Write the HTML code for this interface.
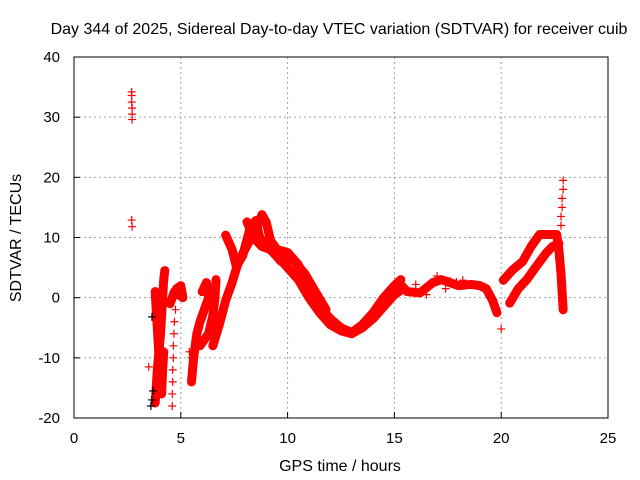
<!DOCTYPE html>
<html><head><meta charset="utf-8">
<style>
html,body{margin:0;padding:0;background:#fff;}
svg{display:block;font-family:"Liberation Sans",sans-serif;}
</style></head>
<body>
<svg id="chart" width="640" height="480" viewBox="0 0 640 480">
  <text x="339" y="34" font-size="16" text-anchor="middle">Day 344 of 2025, Sidereal Day-to-day VTEC variation (SDTVAR) for receiver cuib</text>
  <text x="0" y="0" font-size="16" text-anchor="middle" transform="translate(21,238) rotate(-90)">SDTVAR / TECUs</text>
  <text x="340" y="471" font-size="16" text-anchor="middle">GPS time / hours</text>
  <g id="grid"></g>
  <g id="ticks"></g>
  <g id="marks"></g>
  <rect x="74" y="57" width="534" height="361" fill="none" stroke="#000" stroke-width="1"/>
</svg>
<script>
const xTicks = [0, 5, 10, 15, 20, 25];
const yTicks = [-20, -10, 0, 10, 20, 30, 40];
// isolated samples [hour, TECU]
const scatterPts = [[2.7,34.2],[2.7,33.6],[2.7,32.5],[2.72,31.5],[2.72,30.5],[2.72,29.6],[2.7,12.9],[2.72,11.8],[3.5,-11.5],
 [4.6,-18],[4.6,-16],[4.62,-14],[4.62,-12],[4.65,-10],[4.65,-8],[4.68,-6],[4.7,-4],[4.75,-2],
 [5.4,-9],[5.5,-10],[5.7,-8],[3.7,-3.2],[3.8,-16.5],[16.0,2.2],[16.5,0.5],[17.0,3.6],[17.4,1.5],[17.6,2.8],[17.9,2.6],[18.2,2.9],[20.0,-5.2],[22.9,19.5],[22.9,18],[22.85,16.5],[22.85,15],[22.8,13.5],[22.8,12]];
const blackPts = [[3.65,-3.2],[3.6,-18],[3.65,-17],[3.7,-15.5]];
// tracks of samples [hour, TECU]
const track1 = [[3.8,-17.5],[3.85,-15],[3.9,-12],[3.95,-10],[4.0,-8],[4.05,-6],[4.1,-3],[4.15,0],[4.2,3],[4.25,4.5]];
const track2 = [[3.8,1],[3.85,-2],[3.9,-5],[3.95,-8],[4.0,-11],[4.05,-14],[4.1,-16],[4.15,-12],[4.2,-9]];
const track3 = [[4.5,-1],[4.7,1],[4.9,0.5],[5.1,0],[5.0,2],[4.8,1.5]];
const track4 = [[5.5,-14],[5.6,-10],[5.75,-6],[5.9,-4],[6.1,-2],[6.3,0],[6.2,2.5],[6.0,1]];
const track5 = [[5.9,-8],[6.1,-7],[6.3,-6],[6.5,-3],[6.6,0],[6.65,3]];
const track6 = [[6.5,-8],[6.8,-4.5],[7.1,-0.5],[7.4,2.5],[7.7,6],[8.0,8],[8.3,10],[8.6,12],[8.8,13.8],[9.0,12.5],[9.2,9.5],[9.5,8],[10.0,7.5],[10.5,5.5],[11.0,1.5],[11.5,-1.5],[12.0,-3.5],[12.5,-5],[13.0,-5.8],[13.5,-4.5],[14.0,-2.5],[14.5,0],[15.0,2],[15.3,3]];
const track7 = [[7.1,10.4],[7.4,8],[7.6,5.2],[7.9,7],[8.2,11],[8.5,12.8],[8.7,10],[9.0,8.5],[9.5,7],[10.0,5],[10.5,3],[11.0,0],[11.5,-2.5],[12.0,-4.5],[12.5,-5.5],[13.0,-6],[13.5,-5],[14.0,-3.5],[14.5,-1.5],[15.0,0.5],[15.4,1.5]];
const track8 = [[8.1,12.6],[8.4,10],[8.8,8.5],[9.2,8],[9.7,6],[10.2,6.5],[10.8,4],[11.3,1],[11.8,-2]];
const track9 = [[15.2,2.5],[15.6,1],[16.2,0.8],[16.8,2.5],[17.2,3],[18.0,2],[18.6,2.2],[19.0,2],[19.3,1.5],[19.6,-0.5],[19.8,-2.5]];
const track10 = [[20.1,2.9],[20.5,4.5],[21.0,6],[21.4,8.5],[21.8,10.5],[22.2,10.5],[22.6,10.5],[22.7,8],[22.8,4],[22.85,1],[22.9,-2]];
const track11 = [[20.4,-0.9],[20.8,1.5],[21.2,3],[21.6,5],[22.1,7.4],[22.4,8.5],[22.7,9]];
const tracks = [track1, track2, track3, track4, track5, track6, track7, track8, track9, track10, track11];

const X0=74, X1=608, Y0=418, Y1=57;
const xs = t => X0 + (t/25)*(X1-X0);
const ys = v => Y0 - ((v+20)/60)*(Y0-Y1);
const NS='http://www.w3.org/2000/svg';
const grid=document.getElementById('grid'), ticks=document.getElementById('ticks'), marks=document.getElementById('marks');
function mk(tag, attrs, parent){const e=document.createElementNS(NS,tag);for(const k in attrs)e.setAttribute(k,attrs[k]);parent.appendChild(e);return e;}

xTicks.forEach(t=>{
  const x=xs(t);
  if(t>0&&t<25){const g=mk('line',{x1:x,x2:x,y1:Y1,y2:Y0,stroke:'#a0a0a0','stroke-dasharray':'2,3'},grid);
  
  }
  const l=mk('line',{x1:x,x2:x,y1:Y0,y2:Y0-6,stroke:'#000'},ticks);
  
  
  const s=mk('text',{x:x,y:Y0+25,'font-size':15,'text-anchor':'middle'},ticks);s.textContent=t;
  
  
});
yTicks.forEach(v=>{
  const y=ys(v);
  if(v>-20&&v<40){const g=mk('line',{x1:X0,x2:X1,y1:y,y2:y,stroke:'#a0a0a0','stroke-dasharray':'2,3'},grid);
  
  }
  const l=mk('line',{x1:X0,x2:X0+6,y1:y,y2:y,stroke:'#000'},ticks);
  
  
  const s=mk('text',{x:X0-14,y:y+5,'font-size':15,'text-anchor':'end'},ticks);s.textContent=v;
  
  
});
function plus(t,v,color){
  const x=xs(t),y=ys(v);
  const p=mk('path',{d:`M${x-4},${y}H${x+4}M${x},${y-4}V${y+4}`,stroke:color,'stroke-width':1.2,fill:'none'},marks);
  
  
}
tracks.forEach(tr=>{
  const pl=mk('polyline',{points:tr.map(p=>xs(p[0])+','+ys(p[1])).join(' '),fill:'none',stroke:'#ff0000','stroke-width':9,'stroke-linejoin':'round','stroke-linecap':'round'},marks);
  
  
  tr.forEach(p=>plus(p[0],p[1],'#ff0000'));
});
scatterPts.forEach(p=>plus(p[0],p[1],'#ff0000'));
blackPts.forEach(p=>plus(p[0],p[1],'#000000'));
</script>
</body></html>
